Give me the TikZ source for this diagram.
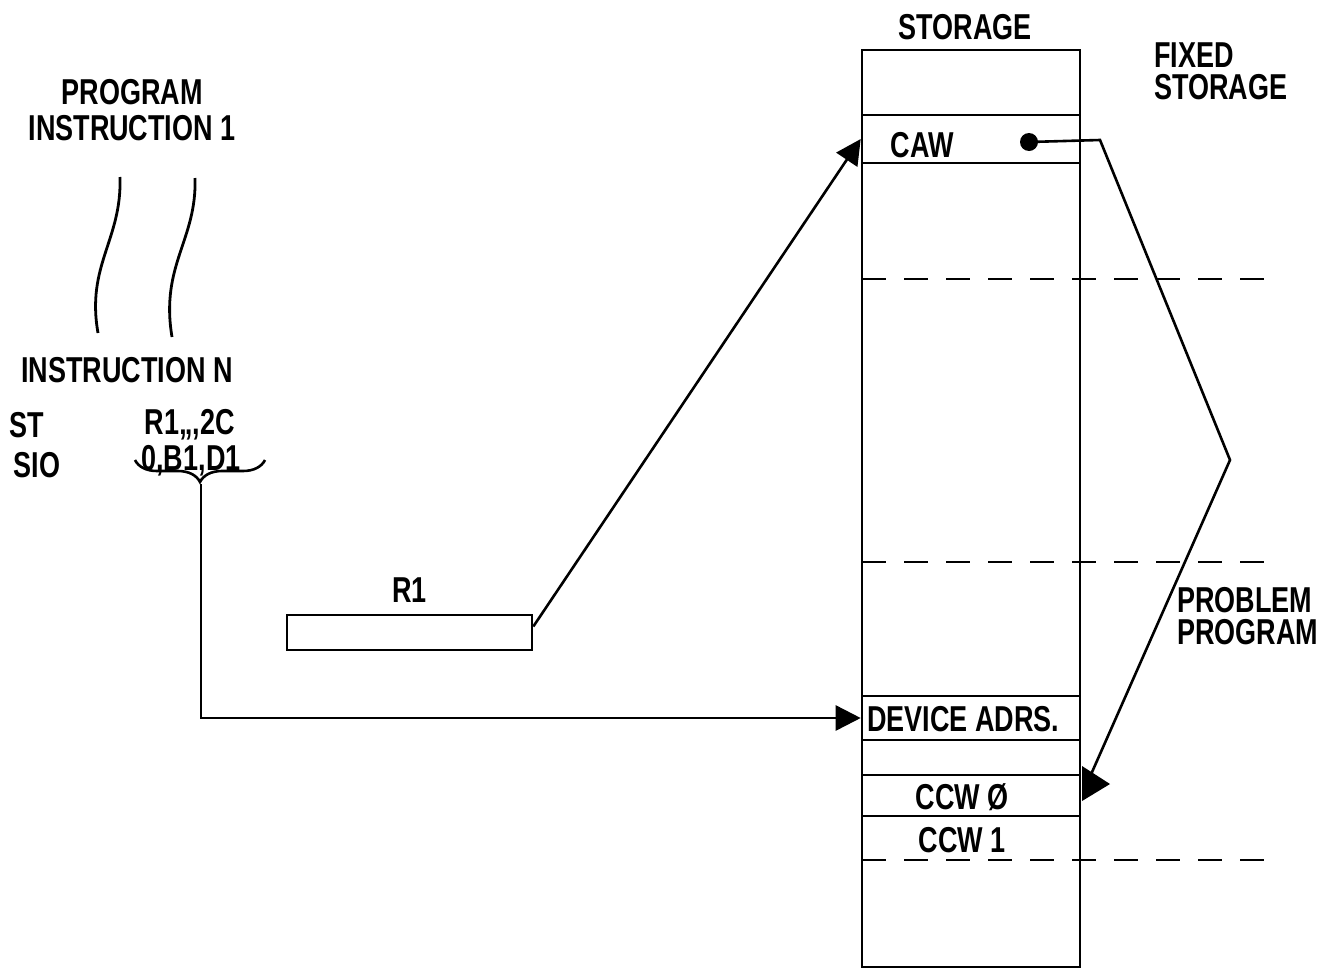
\documentclass[tikz,border=0pt]{standalone}
\usepackage{fontspec}
\setmainfont{Liberation Sans}[FakeStretch=0.75]
\usetikzlibrary{arrows.meta,positioning,decorations.pathreplacing}
\tikzset{
  lbl/.style={font=\fontsize{18}{16}\selectfont\bfseries,inner sep=0pt,align=center},
  row/.style={draw,line width=1.3pt,minimum width=109pt,inner sep=0pt},
  arrow/.style={-{Triangle[length=12.5pt,width=12.5pt]},line width=1.3pt},
  dashline/.style={dash pattern=on 12pt off 9pt,line width=1.3pt}
}

\begin{document}
\begin{tikzpicture}[x=0.5pt,y=-0.5pt,line width=1.3pt]
  \useasboundingbox (0,0) rectangle (1320,969);
  % storage column
  \node[row,minimum height=458.5pt] (stor) at (971,508.5) {};
  \node[row,minimum height=24pt] (caw) at (971,139) {};
  \node[row,minimum height=22pt] (dev) at (971,718) {};
  \node[row,minimum height=20.5pt] (ccwz) at (971,795.5) {};
  \node[lbl,above=4pt of stor,xshift=-3pt] (storlbl) {STORAGE};
  \node[lbl] (cawlbl) at (922,145) {CAW};
  \node[lbl,anchor=west] (devlbl) at (866,719) {DEVICE ADRS.};
  \node[lbl] (ccwzlbl) at (962,797) {CCW Ø};
  \node[lbl] (ccwonelbl) at (962,840) {CCW 1};
  \draw[dashline] (862,279) -- (1265,279);
  \draw[dashline] (862,562) -- (1265,562);
  \draw[dashline] (862,860) -- (1265,860);
  \node[lbl,anchor=west,align=left] (fixed) at (1153,71) {FIXED\\STORAGE};
  \node[lbl,anchor=west,align=left] (problem) at (1176,616) {PROBLEM\\PROGRAM};

  % program side
  \node[lbl,font=\fontsize{18}{18}\selectfont\bfseries] (prog) at (132,110) {PROGRAM\\INSTRUCTION 1};
  \draw[line width=1.4pt] (120,177) .. controls (122,240) and (86,265) .. (98,333);
  \draw[line width=1.4pt] (195,178) .. controls (197,240) and (160,265) .. (172,337);
  \node[lbl] (instn) at (127,370) {INSTRUCTION N};
  \node[lbl] (st) at (27,425) {ST};
  \node[lbl] (stargs) at (190,425) {R1,,,2C};
  \node[lbl] (sio) at (37,465) {SIO};
  \node[lbl] (sioargs) at (191,461) {0,B1,D1};
  \draw[decorate,decoration={brace,mirror,amplitude=11pt}] (135,460) -- (265,460);
  \coordinate (bracetip) at (201,484);

  \node[row,minimum width=122.5pt,minimum height=17.5pt] (r1box) at (409.5,632.5) {};
  \node[lbl,above=5pt of r1box] (r1lbl) {R1};

  % connectors
  \draw[arrow] ([yshift=3pt]r1box.east) -- (caw.west);
  \draw[arrow] (bracetip) |- (dev.west);
  \coordinate (cawdot) at (1029,142);
  \coordinate (bend) at (1100,140);
  \coordinate (apex) at (1230,460);
  \fill (cawdot) circle (4.5pt);
  \draw (cawdot) -- (bend) -- (apex) -- ([xshift=5pt]ccwz.north east);
  \fill (1082,766) -- (1110,784) -- (1082,801) -- cycle;
\end{tikzpicture}
\end{document}
